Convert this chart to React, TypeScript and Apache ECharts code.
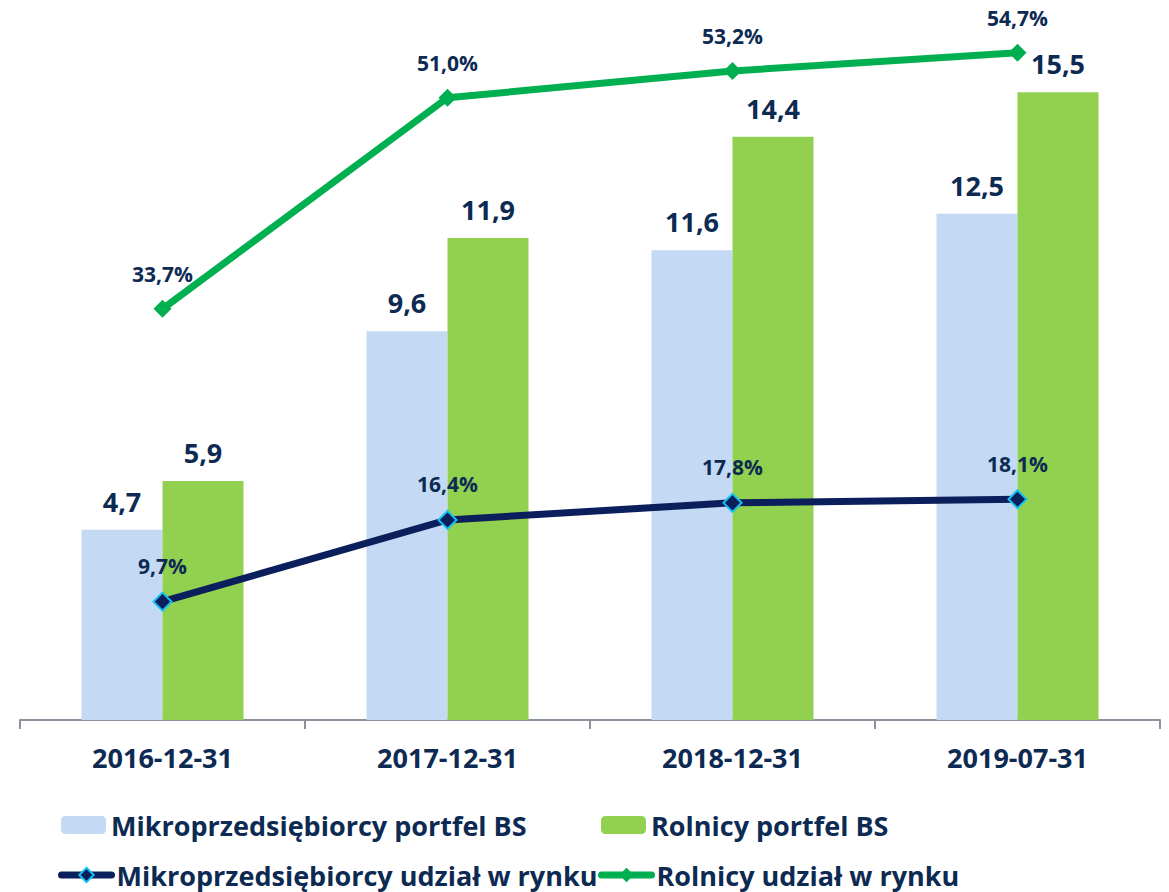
import React, { useEffect, useRef } from "react";
import * as echarts from "echarts";

const categories = ["2016-12-31", "2017-12-31", "2018-12-31", "2019-07-31"];
const mikroPortfel = [4.7, 9.6, 11.6, 12.5];
const rolnicyPortfel = [5.9, 11.9, 14.4, 15.5];
const mikroUdzial = [9.7, 16.4, 17.8, 18.1];
const rolnicyUdzial = [33.7, 51.0, 53.2, 54.7];

const NAVY = "#0d2a52";
const FONT = "Open Sans";
const fmt1 = (v: number) => v.toFixed(1).replace(".", ",");

export default function App() {
  const ref = useRef<HTMLDivElement>(null);
  useEffect(() => {
    const chart = echarts.init(ref.current!, undefined, { renderer: "svg" });
    const legendText = { color: NAVY, fontFamily: FONT, fontWeight: "bold" as const, fontSize: 27, lineHeight: 30 };
    const legendBase = { padding: 0, itemGap: 0, textStyle: legendText, lineStyle: { width: 7, cap: "round" } };
    chart.setOption({
      animation: false,
      backgroundColor: "#ffffff",
      grid: { left: 20, right: 9, top: 0, bottom: 172 },
      xAxis: {
        type: "category",
        data: categories,
        axisLine: { lineStyle: { color: "#8c919c", width: 2 } },
        axisTick: { show: true, length: 9, lineStyle: { color: "#8c919c", width: 2 } },
        axisLabel: { color: NAVY, fontFamily: FONT, fontWeight: "bold", fontSize: 27, margin: 24 },
      },
      yAxis: [
        { type: "value", min: 0, max: 720 / 40.5, show: false, splitLine: { show: false } },
        { type: "value", min: 0, max: 720 / 12.2, show: false, splitLine: { show: false } },
      ],
      legend: [
        { ...legendBase, data: ["Mikroprzedsiębiorcy portfel BS"], left: 61, top: 810, itemWidth: 45, itemHeight: 18 },
        { ...legendBase, data: ["Rolnicy portfel BS"], left: 601, top: 810, itemWidth: 45, itemHeight: 18 },
        { ...legendBase, data: ["Mikroprzedsiębiorcy udział w rynku"], left: 58, top: 860, itemWidth: 50, itemHeight: 18 },
        { ...legendBase, data: ["Rolnicy udział w rynku"], left: 598, top: 860, itemWidth: 50, itemHeight: 18 },
      ],
      series: [
        {
          name: "Mikroprzedsiębiorcy portfel BS",
          type: "bar",
          data: mikroPortfel,
          barWidth: 81,
          barGap: "0%",
          itemStyle: { color: "#c4d9f3" },
          label: { show: true, position: "top", distance: 15, color: NAVY, fontFamily: FONT, fontWeight: "bold", fontSize: 27, formatter: (p: any) => fmt1(p.value) },
        },
        {
          name: "Rolnicy portfel BS",
          type: "bar",
          data: rolnicyPortfel,
          barWidth: 81,
          barGap: "0%",
          itemStyle: { color: "#92d050" },
          label: { show: true, position: "top", distance: 15, color: NAVY, fontFamily: FONT, fontWeight: "bold", fontSize: 27, formatter: (p: any) => fmt1(p.value) },
        },
        {
          name: "Mikroprzedsiębiorcy udział w rynku",
          type: "line",
          yAxisIndex: 1,
          data: mikroUdzial,
          symbol: "diamond",
          symbolSize: 18,
          lineStyle: { color: "#0a1f5c", width: 7 },
          itemStyle: { color: "#0a1f5c", borderColor: "#13c2f2", borderWidth: 2 },
          z: 5,
          label: { show: true, position: "top", distance: 15, color: NAVY, fontFamily: FONT, fontWeight: "bold", fontSize: 21, formatter: (p: any) => fmt1(p.value) + "%" },
        },
        {
          name: "Rolnicy udział w rynku",
          type: "line",
          yAxisIndex: 1,
          data: rolnicyUdzial,
          symbol: "diamond",
          symbolSize: 18,
          lineStyle: { color: "#00b050", width: 7 },
          itemStyle: { color: "#00b050" },
          z: 5,
          label: { show: true, position: "top", distance: 15, color: NAVY, fontFamily: FONT, fontWeight: "bold", fontSize: 21, formatter: (p: any) => fmt1(p.value) + "%" },
        },
      ],
    });
    return () => chart.dispose();
  }, []);
  return <div ref={ref} style={{ width: 1169, height: 892, position: "absolute", left: 0, top: 0 }} />;
}
